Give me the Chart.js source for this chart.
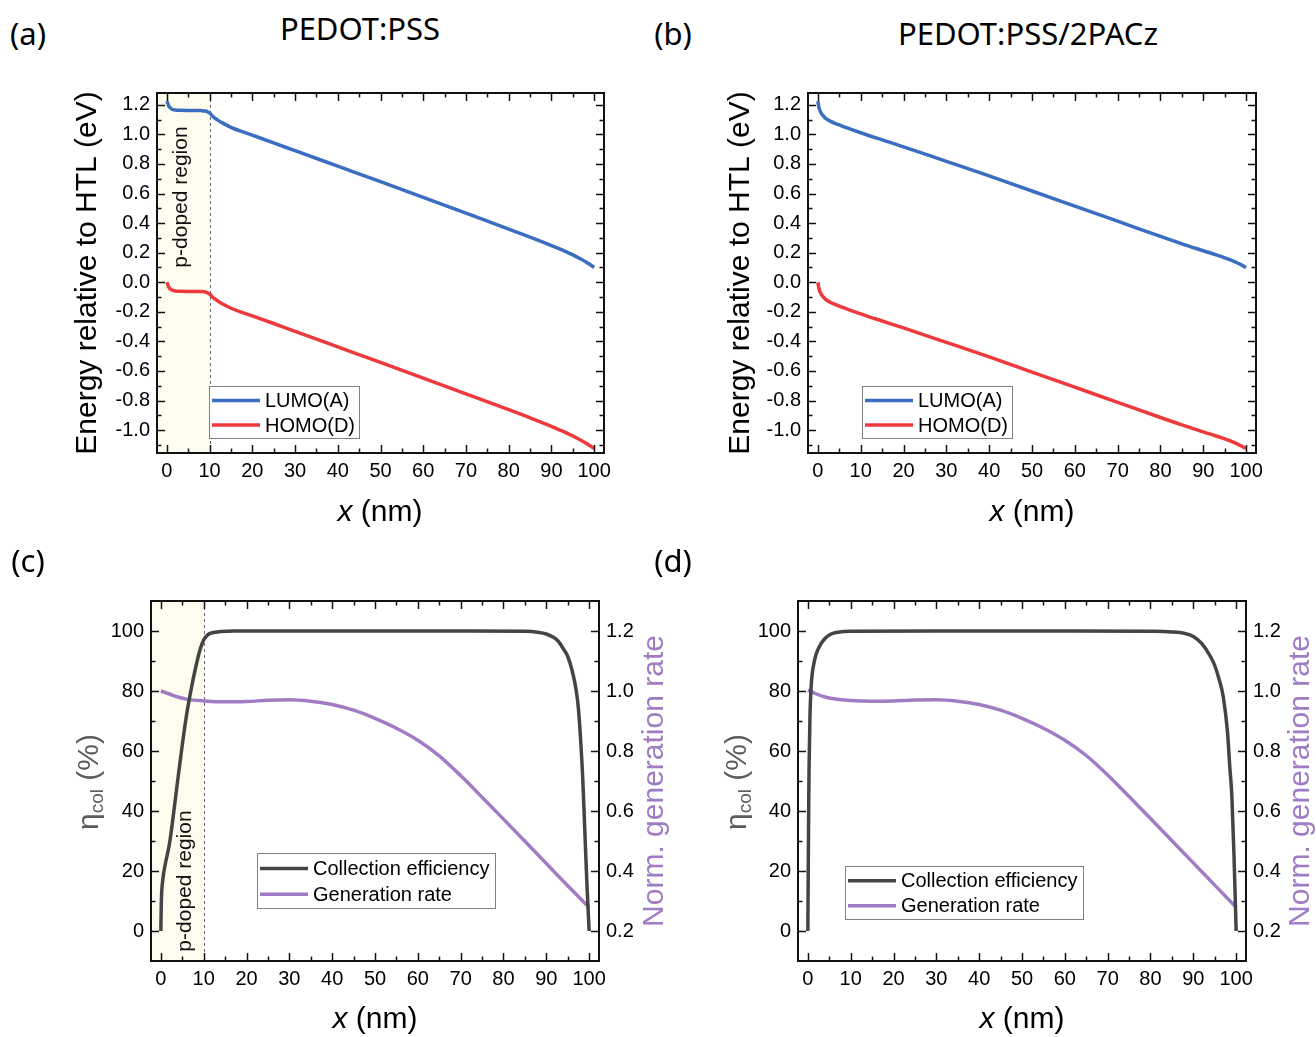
<!DOCTYPE html>
<html><head><meta charset="utf-8">
<script src="https://cdn.jsdelivr.net/npm/chart.js@4.4.1/dist/chart.umd.min.js"></script>
<style>
html,body{margin:0;padding:0;background:#fff;}
#page{position:relative;width:1316px;height:1037px;overflow:hidden;background:#fff;}
canvas{position:absolute;}
.lbl{position:absolute;font-family:"Noto Sans","Open Sans",sans-serif;font-size:31px;color:#000;white-space:nowrap;line-height:1;transform:translate(-50%,-50%);}
</style></head><body>
<div id="page">
<canvas id="ca" width="650" height="480" style="left:0px;top:60px;width:650px;height:480px"></canvas>
<canvas id="cb" width="666" height="480" style="left:650px;top:60px;width:666px;height:480px"></canvas>
<canvas id="cc" width="680" height="477" style="left:0px;top:560px;width:680px;height:477px"></canvas>
<canvas id="cd" width="636" height="477" style="left:680px;top:560px;width:636px;height:477px"></canvas>
<div class="lbl" style="left:28px;top:33px">(a)</div>
<div class="lbl" style="left:360px;top:28px">PEDOT:PSS</div>
<div class="lbl" style="left:673px;top:33px">(b)</div>
<div class="lbl" style="left:1028px;top:33px">PEDOT:PSS/2PACz</div>
<div class="lbl" style="left:28px;top:560px">(c)</div>
<div class="lbl" style="left:673px;top:560px">(d)</div>
</div>
<script>
// ---------------- data ----------------
const xTickVals = [0,10,20,30,40,50,60,70,80,90,100];
const xMinorVals = [5,15,25,35,45,55,65,75,85,95];
const energyTickVals = [-1.0,-0.8,-0.6,-0.4,-0.2,0.0,0.2,0.4,0.6,0.8,1.0,1.2];
const energyMinorVals = [-1.1,-0.9,-0.7,-0.5,-0.3,-0.1,0.1,0.3,0.5,0.7,0.9,1.1];
const etaTickVals = [0,20,40,60,80,100];
const etaMinorVals = [10,30,50,70,90];
const genTickVals = [0.2,0.4,0.6,0.8,1.0,1.2];
const genMinorVals = [0.3,0.5,0.7,0.9,1.1];

const legendEnergy = ['LUMO(A)','HOMO(D)'];
const legendCol = ['Collection efficiency','Generation rate'];
const pDopedLabel = 'p-doped region';
const pDopedEdge = 10;

// panel (a) PEDOT:PSS band diagram
const xA = [0,0.5,1,1.5,2,3,5,7,8,9,9.5,10,10.5,11,12,13,15,20,25,30,40,50,60,70,80,85,90,93,95,97,98,99,100];
const lumoA = [1.225,1.19,1.175,1.168,1.165,1.163,1.162,1.162,1.161,1.158,1.153,1.145,1.13,1.115,1.095,1.078,1.048,0.995,0.942,0.89,0.785,0.68,0.574,0.467,0.36,0.305,0.248,0.212,0.185,0.155,0.139,0.12,0.10];
const homoA = [0.0,-0.035,-0.05,-0.056,-0.059,-0.061,-0.062,-0.062,-0.063,-0.066,-0.071,-0.079,-0.094,-0.108,-0.128,-0.146,-0.176,-0.227,-0.279,-0.332,-0.437,-0.542,-0.648,-0.755,-0.862,-0.917,-0.975,-1.012,-1.04,-1.07,-1.087,-1.105,-1.125];

// panel (b) PEDOT:PSS/2PACz band diagram
const xB = [0,0.2,0.5,1,1.5,2,3,4,5,7,10,15,20,30,40,50,60,70,80,85,90,93,95,97,98,99,100];
const lumoB = [1.225,1.19,1.16,1.135,1.118,1.105,1.088,1.075,1.064,1.042,1.011,0.963,0.916,0.818,0.72,0.617,0.515,0.413,0.31,0.26,0.213,0.185,0.165,0.143,0.13,0.116,0.10];
const homoB = [0.0,-0.035,-0.065,-0.09,-0.107,-0.12,-0.137,-0.15,-0.161,-0.183,-0.214,-0.262,-0.309,-0.407,-0.505,-0.608,-0.71,-0.812,-0.915,-0.965,-1.012,-1.04,-1.06,-1.082,-1.095,-1.109,-1.125];

// panel (c) collection efficiency / generation rate
const xColC = [0,0.1,0.5,1,2,3,4,5,6,7,8,9,10,11,12,14,17,30,50,70,85,88,90,92,93,94,95,96,97,97.5,98,98.5,99,99.5,100];
const colC = [0,9,17.5,22,29,39.5,51,62,72,80,87,93,97,98.8,99.4,99.8,100,100,100,100,99.9,99.6,99,97.6,96.2,94,91.5,87,80,74,64,51,33,15,0];
const xGen = [0,2,4,6,10,15,20,25,30,35,40,45,50,55,60,65,70,75,80,85,90,95,100];
const genC = [1.0,0.99,0.98,0.973,0.967,0.964,0.965,0.969,0.971,0.966,0.955,0.936,0.909,0.876,0.836,0.784,0.718,0.646,0.573,0.499,0.425,0.351,0.278];

// panel (d)
const xColD = [0,0.1,0.2,0.3,0.5,0.75,1,1.5,2,3,4,5,7,10,30,60,80,85,88,90,92,94,95,96,97,98,98.5,99,99.5,100];
const colD = [0,22,42,56,72,81,85.5,89.8,92.6,95.6,97.5,98.7,99.6,99.95,100,100,99.9,99.7,99.2,98.2,95.8,91.5,88.5,84,78,66,55,45,25,0];
const genD = [1.003,0.99,0.98,0.974,0.968,0.966,0.967,0.97,0.971,0.966,0.955,0.936,0.909,0.876,0.836,0.785,0.72,0.648,0.575,0.501,0.427,0.353,0.279];

// ---------------- styling ----------------
const FONT = '"Liberation Sans", Arial, Helvetica, sans-serif';
const C_LUMO = '#3b6dc1', C_HOMO = '#ee3a3c', C_COL = '#444444', C_GEN = '#a07cc4', C_ETA = '#5c5c5c';

function pts(xs, ys){ return xs.map((x,i)=>({x:x, y:ys[i]})); }

function drawParts(ctx, parts, cx, cy, rot){
  ctx.save();
  ctx.translate(cx, cy);
  if (rot) ctx.rotate(-Math.PI/2);
  ctx.textBaseline = 'middle';
  ctx.textAlign = 'left';
  let total = 0;
  parts.forEach(p=>{ ctx.font = p.font; p.w = ctx.measureText(p.t).width; total += p.w; });
  let x = -total/2;
  parts.forEach(p=>{ ctx.font = p.font; ctx.fillStyle = p.color || '#000'; ctx.fillText(p.t, x, p.dy||0); x += p.w; });
  ctx.restore();
}

const decor = {
  id:'decor',
  beforeDatasetsDraw(chart, args, o){
    const ctx = chart.ctx, a = chart.chartArea, xs = chart.scales.x;
    if (o.shade){
      const px = xs.getPixelForValue(pDopedEdge);
      ctx.save();
      ctx.fillStyle = '#fefcee';
      ctx.fillRect(a.left, a.top, px - a.left, a.bottom - a.top);
      ctx.strokeStyle = '#666'; ctx.lineWidth = 1; ctx.setLineDash([3,3]);
      ctx.beginPath(); ctx.moveTo(Math.round(px)+0.5, a.top); ctx.lineTo(Math.round(px)+0.5, a.bottom); ctx.stroke();
      ctx.restore();
      drawParts(ctx, [{t:pDopedLabel, font:'21px '+FONT, color:'#111'}], o.shade.x - o.ox, o.shade.y - o.oy, true);
    }
  },
  afterDatasetsDraw(chart, args, o){
    const ctx = chart.ctx, a = chart.chartArea, sc = chart.scales;
    ctx.save();
    ctx.strokeStyle = '#111'; ctx.lineWidth = 1.5;
    const MJ = 8, MN = 4.5;
    function vt(vals, len){
      vals.forEach(v=>{ const p = Math.round(sc.x.getPixelForValue(v))+0.5;
        ctx.beginPath(); ctx.moveTo(p, a.bottom); ctx.lineTo(p, a.bottom-len);
        ctx.moveTo(p, a.top); ctx.lineTo(p, a.top+len); ctx.stroke(); });
    }
    function ht(scale, vals, len, left, right){
      vals.forEach(v=>{ const p = Math.round(scale.getPixelForValue(v))+0.5;
        ctx.beginPath();
        if (left){ ctx.moveTo(a.left, p); ctx.lineTo(a.left+len, p); }
        if (right){ ctx.moveTo(a.right, p); ctx.lineTo(a.right-len, p); }
        ctx.stroke(); });
    }
    vt(xTickVals, MJ); vt(xMinorVals, MN);
    if (sc.y1){
      ht(sc.y, o.yMajor, MJ, true, false); ht(sc.y, o.yMinor, MN, true, false);
      ht(sc.y1, o.y1Major, MJ, false, true); ht(sc.y1, o.y1Minor, MN, false, true);
    } else {
      ht(sc.y, o.yMajor, MJ, true, true); ht(sc.y, o.yMinor, MN, true, true);
    }
    ctx.strokeStyle = '#111'; ctx.lineWidth = 2;
    ctx.strokeRect(a.left, a.top, a.right - a.left, a.bottom - a.top);
    const L = o.legend;
    const lx = L.x - o.ox, ly = L.y - o.oy;
    ctx.fillStyle = '#fff'; ctx.fillRect(lx, ly, L.w, L.h);
    ctx.strokeStyle = '#808080'; ctx.lineWidth = 1;
    ctx.strokeRect(Math.round(lx)+0.5, Math.round(ly)+0.5, L.w, L.h);
    chart.data.datasets.forEach((ds, i)=>{
      const ry = ly + L.h*(i===0?0.28:0.75);
      ctx.strokeStyle = ds.borderColor; ctx.lineWidth = 3.5;
      ctx.beginPath(); ctx.moveTo(lx+3, ry); ctx.lineTo(lx+51, ry); ctx.stroke();
      ctx.fillStyle = '#000'; ctx.font = '20px '+FONT; ctx.textBaseline = 'middle'; ctx.textAlign = 'left';
      ctx.fillText(ds.label, lx+56, ry+1);
    });
    ctx.restore();
    const T = o.titles;
    drawParts(ctx, [{t:'x', font:'italic 30px '+FONT},{t:' (nm)', font:'30px '+FONT}], T.x[0]-o.ox, T.x[1]-o.oy, false);
    if (T.energy) drawParts(ctx, [{t:'Energy relative to HTL (eV)', font:'30px '+FONT}], T.energy[0]-o.ox, T.energy[1]-o.oy, true);
    if (T.eta) drawParts(ctx, [{t:'\u03B7', font:'30px '+FONT, color:C_ETA},{t:'col', font:'19px '+FONT, color:C_ETA, dy:8},{t:' (%)', font:'30px '+FONT, color:C_ETA}], T.eta[0]-o.ox, T.eta[1]-o.oy, true);
    if (T.gen) drawParts(ctx, [{t:'Norm. generation rate', font:'30px '+FONT, color:C_GEN}], T.gen[0]-o.ox, T.gen[1]-o.oy, true);
  }
};

function xScale(h){
  return { type:'linear', min:-2.3, max:102.3,
    afterBuildTicks: s=>{ s.ticks = xTickVals.map(v=>({value:v})); },
    afterFit: s=>{ s.height = h; },
    grid:{display:false, drawTicks:false}, border:{display:false},
    ticks:{padding:6, color:'#000', font:{family:FONT, size:20}, maxRotation:0, autoSkip:false, callback:v=>String(v)} };
}
function yScale(pos, min, max, vals, w, dec){
  return { type:'linear', position:pos, min:min, max:max,
    afterBuildTicks: s=>{ s.ticks = vals.map(v=>({value:v})); },
    afterFit: s=>{ s.width = w; },
    grid:{display:false, drawTicks:false}, border:{display:false},
    ticks:{padding:7, color:'#000', font:{family:FONT, size:20}, autoSkip:false, callback:v=>Number(v).toFixed(dec)} };
}
function lineDs(label, data, color, axis){
  const d = { label:label, data:data, borderColor:color, backgroundColor:color, borderWidth:3.5, pointRadius:0, cubicInterpolationMode:'monotone', fill:false };
  if (axis) d.yAxisID = axis;
  return d;
}

function energyChart(id, ox, oy, padTop, padRight, leftW, xH, xs, lumo, homo, shade, legend, titles){
  return new Chart(document.getElementById(id), {
    type:'line',
    data:{ datasets:[ lineDs(legendEnergy[0], pts(xs, lumo), C_LUMO), lineDs(legendEnergy[1], pts(xs, homo), C_HOMO) ] },
    options:{ responsive:false, animation:false, devicePixelRatio:1,
      layout:{padding:{top:padTop, right:padRight, left:0, bottom:0}},
      scales:{ x:xScale(xH), y:yScale('left', -1.155, 1.28, energyTickVals, leftW, 1) },
      plugins:{ legend:{display:false}, tooltip:{enabled:false},
        decor:{ ox:ox, oy:oy, shade:shade, legend:legend, titles:titles, yMajor:energyTickVals, yMinor:energyMinorVals } } },
    plugins:[decor]
  });
}
function colChart(id, ox, oy, padTop, leftW, rightW, xH, xc, col, gen, shade, legend, titles){
  return new Chart(document.getElementById(id), {
    type:'line',
    data:{ datasets:[ lineDs(legendCol[0], pts(xc, col), C_COL, 'y'), lineDs(legendCol[1], pts(xGen, gen), C_GEN, 'y1') ] },
    options:{ responsive:false, animation:false, devicePixelRatio:1,
      layout:{padding:{top:padTop, right:0, left:0, bottom:0}},
      scales:{ x:xScale(xH), y:yScale('left', -10, 110, etaTickVals, leftW, 0), y1:yScale('right', 0.1, 1.3, genTickVals, rightW, 1) },
      plugins:{ legend:{display:false}, tooltip:{enabled:false},
        decor:{ ox:ox, oy:oy, shade:shade, legend:legend, titles:titles,
          yMajor:etaTickVals, yMinor:etaMinorVals, y1Major:genTickVals, y1Minor:genMinorVals } } },
    plugins:[decor]
  });
}

energyChart('ca', 0, 60, 33, 46, 157, 87, xA, lumoA, homoA, {x:181, y:197},
  {x:209, y:386, w:150, h:52}, {x:[380,513], energy:[88,273]});
energyChart('cb', 650, 60, 33, 60, 158, 87, xB, lumoB, homoB, null,
  {x:862, y:386, w:150, h:52}, {x:[1032,513], energy:[741,273]});
colChart('cc', 0, 560, 41, 151, 81, 76, xColC, colC, genC, {x:185, y:881},
  {x:257, y:853, w:238, h:55}, {x:[375,1020], eta:[90,782], gen:[655,781]});
colChart('cd', 680, 560, 41, 118, 70, 76, xColD, colD, genD, null,
  {x:845, y:866, w:238, h:53}, {x:[1022,1020], eta:[738,782], gen:[1301,781]});
</script>
</body></html>
